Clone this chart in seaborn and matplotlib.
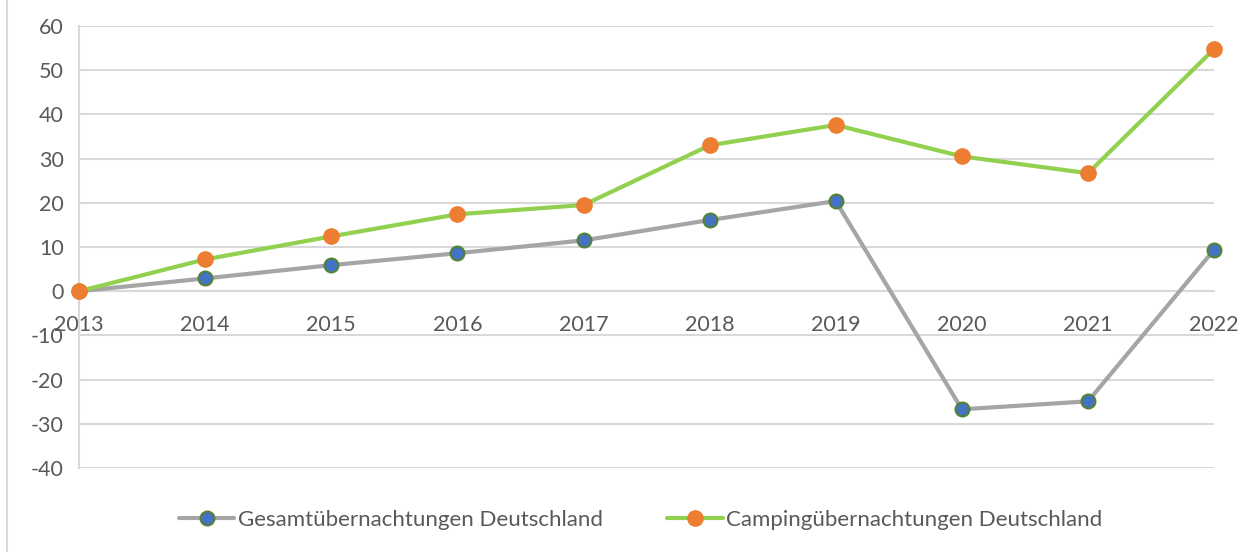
import numpy as np
import pandas as pd
import matplotlib
matplotlib.use("Agg")
import matplotlib.pyplot as plt
import seaborn as sns
from matplotlib.lines import Line2D

# ---------- data ----------
years = [2013, 2014, 2015, 2016, 2017, 2018, 2019, 2020, 2021, 2022]
gesamt = [0.0, 2.9, 5.9, 8.6, 11.5, 16.1, 20.4, -26.7, -24.9, 9.4]
camping = [0.0, 7.2, 12.4, 17.4, 19.5, 33.0, 37.6, 30.5, 26.7, 54.8]
label_gesamt = "Gesamtübernachtungen Deutschland"
label_camping = "Campingübernachtungen Deutschland"
yticks = [-40, -30, -20, -10, 0, 10, 20, 30, 40, 50, 60]

TXT = "#595959"
GRID = "#D9D9D9"

sns.set_theme(style="white")
plt.rcParams['font.family'] = ['Lato', 'DejaVu Sans']
plt.rcParams['axes.unicode_minus'] = False

df = pd.DataFrame({"year": years, "gesamt": gesamt, "camping": camping})

fig = plt.figure(figsize=(12.44, 5.52), dpi=100)
ax = fig.add_axes([0.0635, 0.152, 0.9125, 0.801])

sns.lineplot(data=df, x="year", y="gesamt", ax=ax, color="#A5A5A5", lw=3,
             marker="o", markersize=10, markerfacecolor="#4472C4",
             markeredgecolor="#548235", markeredgewidth=1.5, zorder=3,
             clip_on=False)
sns.lineplot(data=df, x="year", y="camping", ax=ax, color="#92D050", lw=3,
             marker="o", markersize=11, markerfacecolor="#ED7D31",
             markeredgecolor="#ED7D31", markeredgewidth=1, zorder=4,
             clip_on=False)

ax.set_ylim(-40, 60)
ax.set_xlim(years[0], years[-1])
ax.set_yticks(yticks)
ax.set_xticks(years)
ax.set_xticklabels([str(y) for y in years])
ax.set_xlabel("")
ax.set_ylabel("")
ax.grid(axis="y", color=GRID, lw=1.5)
ax.grid(axis="x", visible=False)
for s in ["top", "right"]:
    ax.spines[s].set_visible(False)
ax.spines["left"].set_color(GRID)
ax.spines["left"].set_linewidth(1.5)
ax.spines["bottom"].set_position(("data", 0))
ax.spines["bottom"].set_color(GRID)
ax.spines["bottom"].set_linewidth(1.5)
ax.tick_params(axis="both", length=0, labelsize=15.5, labelcolor=TXT)
ax.tick_params(axis="y", pad=11)
ax.tick_params(axis="x", pad=17)

# outer chart border (only left edge visible)
fig.add_artist(Line2D([0.0056, 0.0056], [0.0, 1.0], transform=fig.transFigure,
                      color=GRID, lw=1.5))

handles = [
    Line2D([], [], color="#A5A5A5", lw=3, marker="o", markersize=10,
           markerfacecolor="#4472C4", markeredgecolor="#548235", markeredgewidth=1.5),
    Line2D([], [], color="#92D050", lw=3, marker="o", markersize=11,
           markerfacecolor="#ED7D31", markeredgecolor="#ED7D31"),
]
fig.legend(handles, [label_gesamt, label_camping], loc="center",
           bbox_to_anchor=(0.515, 0.058), ncol=2, frameon=False,
           fontsize=16, labelcolor=TXT, handlelength=2.5, handletextpad=0.15,
           columnspacing=2.9)

fig.savefig("out.png", dpi=100)
